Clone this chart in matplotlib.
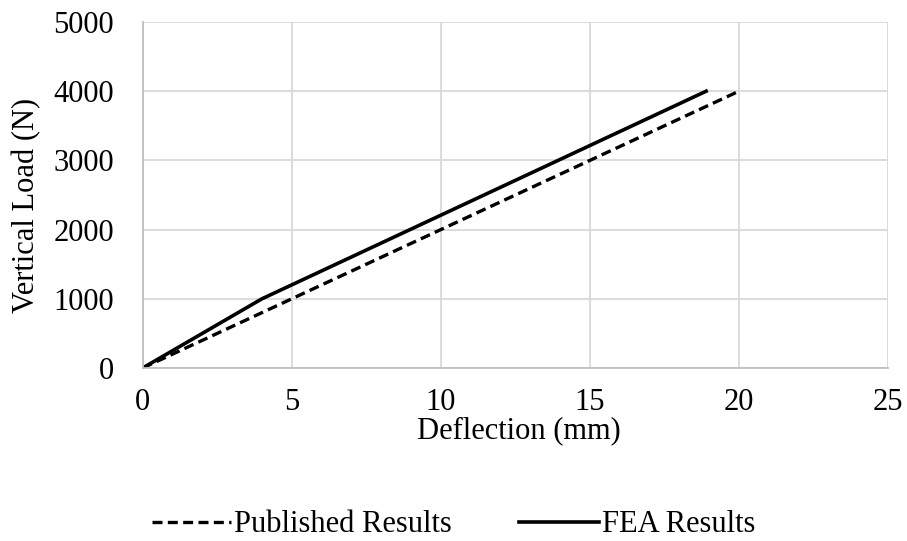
import matplotlib
matplotlib.use("Agg")
import matplotlib.pyplot as plt

# load-deflection data
pub_defl = [0, 5, 10, 15, 20]
pub_load = [0, 1000, 2000, 3000, 4000]
fea_defl = [0, 4.0, 18.9]
fea_load = [0, 1000, 4000]

plt.rcParams['font.family'] = ['Liberation Serif', 'DejaVu Serif']

W, H = 907, 541
L, R, T, B = 142.7, 888, 22, 368

fig = plt.figure(figsize=(W / 100, H / 100), dpi=100)
ax = fig.add_axes([L / W, 1 - B / H, (R - L) / W, (B - T) / H])

ax.plot(pub_defl, pub_load, color="black", lw=2.4, ls=(0, (3, 1.6)),
        label="Published Results")
ax.plot(fea_defl, fea_load, color="black", lw=2.6, label="FEA Results")

ax.set_xlim(0, 25)
ax.set_ylim(0, 5000)
ax.set_xticks(range(0, 26, 5))
ax.set_yticks(range(0, 5001, 1000))
ax.grid(True, color="#d9d9d9", lw=1.3)
ax.set_axisbelow(True)
for s in ["top", "right"]:
    ax.spines[s].set_visible(False)
for s in ["left", "bottom"]:
    ax.spines[s].set_color("#bfbfbf")
    ax.spines[s].set_linewidth(1.3)
ax.tick_params(length=0, labelsize=22)
ax.tick_params(axis="y", pad=20.5)
ax.tick_params(axis="x", pad=14.5)

ax.set_xlabel("Deflection (mm)", fontsize=22, va="baseline")
ax.xaxis.set_label_coords(0.505, (B - 438) / (B - T))
ax.set_ylabel("Vertical Load (N)", fontsize=22, va="center")
ax.yaxis.set_label_coords((27 - L) / (R - L), 0.47)

fig.legend(loc="center", bbox_to_anchor=(0.5, 1 - 525 / H), ncol=2,
           frameon=False, fontsize=22, handlelength=2.6, handletextpad=0.1,
           columnspacing=2.2)

fig.savefig("out.png", dpi=100)
